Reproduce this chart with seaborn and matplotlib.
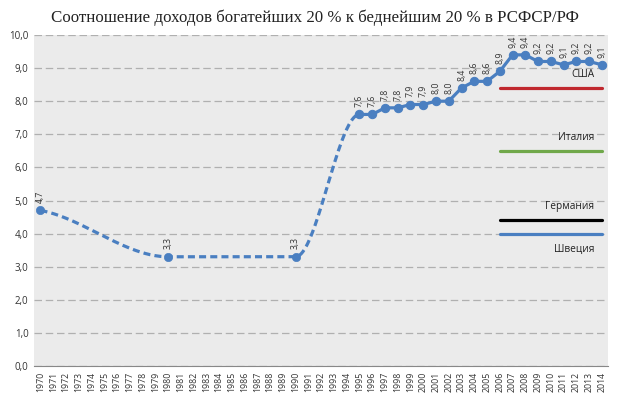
import numpy as np
import pandas as pd
import matplotlib
matplotlib.use("Agg")
import matplotlib.pyplot as plt
import seaborn as sns

# data
years = list(range(1970, 2015))
early_years = [1970, 1980, 1990, 1995]
early_vals = [4.7, 3.3, 3.3, 7.6]
late_years = list(range(1995, 2015))
late_vals = [7.6, 7.6, 7.8, 7.8, 7.9, 7.9, 8.0, 8.0, 8.4, 8.6,
             8.6, 8.9, 9.4, 9.4, 9.2, 9.2, 9.1, 9.2, 9.2, 9.1]
countries = ["США", "Италия", "Германия", "Швеция"]
country_vals = [8.4, 6.5, 4.4, 4.0]
country_colors = ["#c0282e", "#70a84a", "#000000", "#4a7fc1"]
country_span = (2006, 2014)

blue = "#4a7fc1"

sns.set_style("whitegrid", {"axes.facecolor": "#ebebeb"})
plt.rcParams['font.family'] = ['Open Sans', 'DejaVu Sans']

fig = plt.figure(figsize=(6.2, 4.0), dpi=100)
ax = fig.add_axes([0.055, 0.085, 0.926, 0.8275])


def pos(y):
    return years.index(y)


# smoothed dashed line: monotone cubic (pchip-like) through the sparse points,
# the next solid point is used only as a neighbour for the slope at 1995
kx = np.array([pos(y) for y in early_years] + [pos(late_years[1])], dtype=float)
ky = np.array(early_vals + [late_vals[1]], dtype=float)
h = np.diff(kx)
d = np.diff(ky) / h
m = np.zeros_like(ky)
for i in range(1, len(ky) - 1):
    if d[i - 1] * d[i] > 0:
        w1, w2 = 2 * h[i] + h[i - 1], h[i] + 2 * h[i - 1]
        m[i] = (w1 + w2) / (w1 / d[i - 1] + w2 / d[i])
m[0] = d[0] / 2
xs, ys = [], []
for i in range(len(early_years) - 1):
    s = np.linspace(0, 1, 80)
    h00 = 2 * s ** 3 - 3 * s ** 2 + 1
    h10 = s ** 3 - 2 * s ** 2 + s
    h01 = -2 * s ** 3 + 3 * s ** 2
    h11 = s ** 3 - s ** 2
    xs.append(kx[i] + s * h[i])
    ys.append(h00 * ky[i] + h10 * h[i] * m[i] + h01 * ky[i + 1] + h11 * h[i] * m[i + 1])
curve_df = pd.DataFrame({"x": np.concatenate(xs), "y": np.concatenate(ys)})
sns.lineplot(data=curve_df, x="x", y="y", ax=ax, color=blue, lw=2.3,
             linestyle=(0, (2.2, 1.3)), sort=False, estimator=None)

early_df = pd.DataFrame({"x": [pos(y) for y in early_years[:-1]], "y": early_vals[:-1]})
sns.scatterplot(data=early_df, x="x", y="y", ax=ax, color=blue, s=36, edgecolor=blue, zorder=4)

late_df = pd.DataFrame({"x": [pos(y) for y in late_years], "y": late_vals})
sns.lineplot(data=late_df, x="x", y="y", ax=ax, color=blue, lw=2.3, marker="o",
             markersize=6, markeredgecolor=blue, estimator=None)

# data labels
for y, v in list(zip(early_years[:-1], early_vals[:-1])) + list(zip(late_years, late_vals)):
    ax.text(pos(y), v + 0.22, f"{v:.1f}".replace(".", ","), rotation=90,
            ha="center", va="bottom", fontsize=6.3, color="#333333")

# country reference lines
for name, v, c in zip(countries, country_vals, country_colors):
    ax.plot([pos(country_span[0]), pos(country_span[1])], [v, v], color=c, lw=2.3, zorder=3)
    if name == "Швеция":
        ax.text(pos(2013) + 0.4, v - 0.3, name, ha="right", va="top", fontsize=7.3, color="#222222")
    else:
        ax.text(pos(2013) + 0.4, v + 0.25, name, ha="right", va="bottom", fontsize=7.3, color="#222222")

ax.set_xlim(-0.5, len(years) - 0.5)
ax.set_ylim(0, 10)
ax.set_yticks(np.arange(0, 11, 1))
ax.set_yticklabels([f"{v:.1f}".replace(".", ",") for v in range(11)], fontsize=7, color="#333333")
ax.set_xticks(range(len(years)))
ax.set_xticklabels([str(y) for y in years], rotation=90, fontsize=6.3, color="#333333")
ax.set_xticks(np.arange(-0.5, len(years), 1), minor=True)
ax.tick_params(axis="x", which="major", length=0, pad=4)
ax.tick_params(axis="x", which="minor", length=3, color="#888888", width=0.8)
ax.tick_params(axis="y", length=0, pad=4)
ax.grid(axis="x", visible=False)
ax.grid(axis="y", color="#b0b0b0", linestyle=(0, (6, 3)), lw=0.9)
ax.set_xlabel("")
ax.set_ylabel("")
for s in ["top", "right", "left"]:
    ax.spines[s].set_visible(False)
ax.spines["bottom"].set_color("#888888")
ax.spines["bottom"].set_linewidth(0.8)

fig.text(0.508, 0.955, "Соотношение доходов богатейших 20 % к беднейшим 20 % в РСФСР/РФ",
         ha="center", va="center", fontsize=12.2, family=["Liberation Serif", "DejaVu Serif"],
         color="#222222")

fig.savefig("out.png", dpi=100)
